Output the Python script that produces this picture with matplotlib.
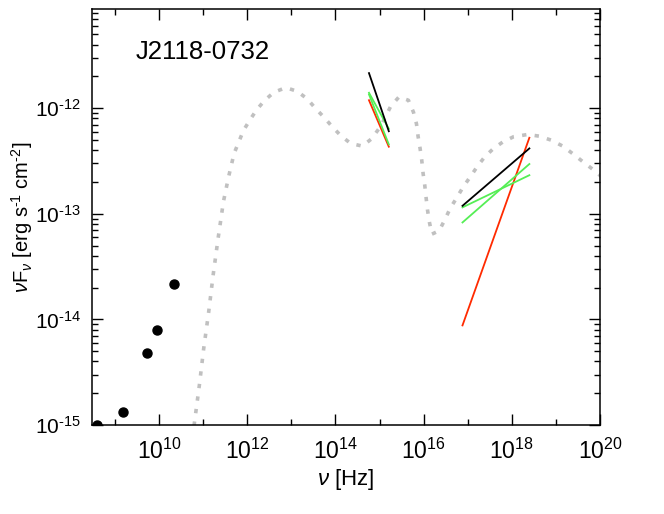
import numpy as np
import matplotlib
matplotlib.use("Agg")
import matplotlib.pyplot as plt
from matplotlib.ticker import LogLocator, NullFormatter

plt.rcParams["font.family"] = ["Liberation Sans", "DejaVu Sans"]
plt.rcParams["mathtext.fontset"] = "custom"
plt.rcParams["mathtext.rm"] = "Liberation Sans"
plt.rcParams["mathtext.it"] = "Liberation Sans:italic"

source_name = "J2118-0732"

# radio points
radio_freq = [3.9e8, 1.48e9, 5.2e9, 8.9e9, 2.15e10]
radio_flux = [1.0e-15, 1.32e-15, 4.8e-15, 7.9e-15, 2.15e-14]

# model SED (log10 nu, log10 nuFnu)
sed_lognu = [10.753, 10.798, 10.912, 11.010, 11.123, 11.223, 11.337, 11.457, 11.571,
             11.700, 11.912, 12.055, 12.214, 12.396, 12.600, 12.873, 13.132, 13.360,
             13.548, 13.737, 13.928, 14.116, 14.344, 14.610, 14.821, 15.026, 15.253,
             15.441, 15.655, 15.769, 15.837, 15.873, 15.919, 15.957, 15.987, 16.025,
             16.055, 16.087, 16.132, 16.185, 16.350, 16.480, 16.600, 16.753, 16.896,
             17.071, 17.223, 17.389, 17.578, 17.792, 18.041, 18.360, 18.623, 18.889,
             19.155, 19.382, 19.609, 19.837, 20.025]
sed_logflux = [-15.126, -14.985, -14.623, -14.277, -13.931, -13.585, -13.233, -12.887, -12.657,
               -12.428, -12.211, -12.114, -12.013, -11.925, -11.850, -11.805, -11.840, -11.912,
               -12.003, -12.085, -12.176, -12.258, -12.334, -12.359, -12.289, -12.170, -11.982,
               -11.893, -11.925, -12.038, -12.148, -12.265, -12.381, -12.494, -12.617, -12.730,
               -12.846, -12.963, -13.082, -13.193, -13.161, -13.057, -12.950, -12.846, -12.746,
               -12.642, -12.548, -12.459, -12.384, -12.321, -12.270, -12.249, -12.265, -12.302,
               -12.359, -12.431, -12.506, -12.579, -12.645]

# optical/UV and X-ray power-law segments
opt_freq = [5.75e14, 1.62e15]
xray_freq = [7.6e16, 2.5e18]
opt_black = [2.15e-12, 6.05e-13]
opt_green_a = [1.40e-12, 6.38e-13]
opt_green_b = [1.35e-12, 4.54e-13]
opt_red = [1.19e-12, 4.32e-13]
xray_black = [1.19e-13, 4.16e-13]
xray_green_a = [1.15e-13, 2.32e-13]
xray_green_b = [8.28e-14, 2.96e-13]
xray_red = [8.77e-15, 5.25e-13]

x_ticks = [1e10, 1e12, 1e14, 1e16, 1e18, 1e20]
x_ticklabels = ["10$^{10}$", "10$^{12}$", "10$^{14}$", "10$^{16}$", "10$^{18}$", "10$^{20}$"]
y_ticks = [1e-15, 1e-14, 1e-13, 1e-12]
y_ticklabels = ["10$^{\u201015}$", "10$^{\u201014}$", "10$^{\u201013}$", "10$^{\u201012}$"]

green = "#55ee55"
red = "#ff2a00"

fig = plt.figure(figsize=(6.64, 5.14), dpi=100)
ax = fig.add_axes([0.1386, 0.1732, 0.765, 0.8093])

ax.plot(10 ** np.array(sed_lognu), 10 ** np.array(sed_logflux), color="#c0c0c0",
        lw=2.6, linestyle=(0, (1.2, 2.3)))

ax.plot(opt_freq, opt_red, color=red, lw=1.3)
ax.plot(opt_freq, opt_green_b, color=green, lw=1.3)
ax.plot(opt_freq, opt_green_a, color=green, lw=1.3)
ax.plot(opt_freq, opt_black, color="black", lw=1.3)

ax.plot(xray_freq, xray_red, color=red, lw=1.3)
ax.plot(xray_freq, xray_green_b, color=green, lw=1.3)
ax.plot(xray_freq, xray_green_a, color=green, lw=1.3)
ax.plot(xray_freq, xray_black, color="black", lw=1.3)

ax.plot(radio_freq, radio_flux, "o", color="black", ms=6.5)

ax.set_xscale("log")
ax.set_yscale("log")
ax.set_xlim(3e8, 1e20)
ax.set_ylim(1e-15, 8.7e-12)

ax.set_xticks(x_ticks)
ax.set_xticklabels(x_ticklabels)
ax.set_yticks(y_ticks)
ax.set_yticklabels(y_ticklabels)
ax.xaxis.set_minor_locator(LogLocator(base=10, subs=(1.0,), numticks=30))
ax.xaxis.set_minor_formatter(NullFormatter())
ax.yaxis.set_minor_locator(LogLocator(base=10, subs=np.arange(2, 10), numticks=30))
ax.yaxis.set_minor_formatter(NullFormatter())

ax.tick_params(which="both", direction="in", top=True, right=True)
ax.tick_params(which="major", length=8, width=1)
ax.tick_params(which="minor", length=4, width=1)
ax.tick_params(axis="x", which="major", pad=10, labelsize=16.5)
ax.tick_params(axis="y", which="major", pad=8, labelsize=15)
for s in ax.spines.values():
    s.set_linewidth(1.1)

ax.set_xlabel(r"$\nu$ [Hz]", fontsize=16, labelpad=2)
ax.set_ylabel("$\\nu$F$_\\nu$ [erg s$^{\u20101}$ cm$^{\u20102}$]", fontsize=14.5, labelpad=0)

ax.text(0.085, 0.897, source_name, transform=ax.transAxes, fontsize=18.5,
        ha="left", va="center")

fig.savefig("out.png", dpi=100)
